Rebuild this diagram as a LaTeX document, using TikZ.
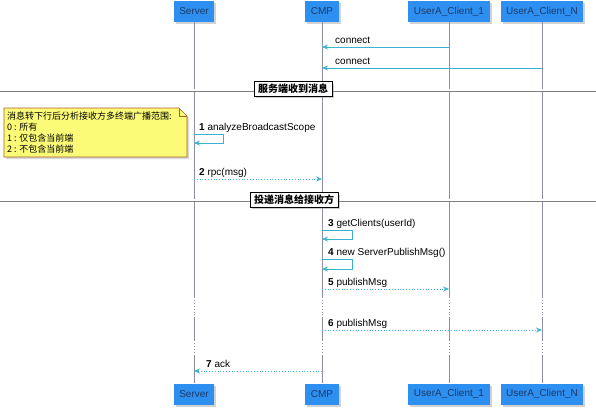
\documentclass[tikz,border=0pt]{standalone}
\usepackage{fontspec}
\setmainfont{Liberation Sans}
\newfontfamily\cjk{Noto Sans CJK SC}
\usetikzlibrary{shadows,arrows.meta}

\definecolor{boxblue}{HTML}{2D8FEF}
\definecolor{boxtext}{HTML}{1B3A6B}
\definecolor{lifegray}{HTML}{8E8EA6}
\definecolor{msgcyan}{HTML}{3AB3CF}
\definecolor{noteyellow}{HTML}{FBFB77}
\definecolor{noteedge}{HTML}{A8602E}

\tikzset{
  actor/.style={fill=boxblue, text=boxtext, minimum height=21pt, inner xsep=5.5pt,
    font=\fontsize{10}{12}\selectfont,
    drop shadow={shadow xshift=2pt, shadow yshift=-2pt, fill=black!35}},
  life/.style={draw=lifegray, line width=0.9pt},
  msg/.style={draw=msgcyan, line width=0.8pt, -{Stealth[length=6pt,width=5pt]}},
  reply/.style={msg, dotted},
  lbl/.style={anchor=base west, inner sep=0pt, font=\fontsize{10}{12}\selectfont},
  sect/.style={draw, fill=white, inner xsep=4pt, inner ysep=2.5pt,
    font=\cjk\bfseries\fontsize{10}{12}\selectfont,
    drop shadow={shadow xshift=2pt, shadow yshift=-2pt, fill=black!40}},
  divider/.style={draw=gray, double=white, double distance=1.6pt, line width=0.7pt}
}

\begin{document}
\begin{tikzpicture}[x=1pt,y=-1pt]
\useasboundingbox (0,0) rectangle (596,410);

% participants
\node[actor] (srv-top) at (194,11.5) {Server};
\node[actor] (cmp-top) at (322,11.5) {CMP};
\node[actor] (ua1-top) at (449,11.5) {UserA\_Client\_1};
\node[actor] (uan-top) at (542,11.5) {UserA\_Client\_N};
\node[actor] (srv-bot) at (194,394) {Server};
\node[actor] (cmp-bot) at (322,394) {CMP};
\node[actor] (ua1-bot) at (449,394) {UserA\_Client\_1};
\node[actor] (uan-bot) at (542,394) {UserA\_Client\_N};

% lifelines
\foreach \p in {srv,cmp,ua1,uan} {
  \draw[life] (\p-top.south) -- (\p-top |- 0,297);
  \draw[life,dotted] (\p-top |- 0,297) -- (\p-top |- 0,318);
  \draw[life] (\p-top |- 0,318) -- (\p-top |- 0,340);
  \draw[life,dotted] (\p-top |- 0,340) -- (\p-top |- 0,356);
  \draw[life] (\p-top |- 0,356) -- (\p-bot.north);
}

% connect
\coordinate (c1a) at (ua1-top |- 0,47);
\coordinate (c1b) at (cmp-top |- 0,47);
\draw[msg] (c1a) -- (c1b);
\node[lbl] (c1l) at ([xshift=13pt,yshift=4pt]c1b) {connect};
\coordinate (c2a) at (uan-top |- 0,68);
\coordinate (c2b) at (cmp-top |- 0,68);
\draw[msg] (c2a) -- (c2b);
\node[lbl] (c2l) at ([xshift=13pt,yshift=4pt]c2b) {connect};

% section 1
\draw[divider] (0,90) -- (596,90);
\node[sect] (sec1) at (293,89) {服务端收到消息};

% note
\draw[noteedge, fill=noteyellow, line width=0.6pt,
  drop shadow={shadow xshift=2pt, shadow yshift=-2pt, fill=black!30}]
  (4,108) -- (179,108) -- (187,116) -- (187,157) -- (4,157) -- cycle;
\draw[noteedge, line width=0.6pt] (179,108) -- (179,116) -- (187,116);
\node[anchor=north west, align=left, inner sep=0pt,
  font=\cjk\fontsize{9}{10.8}\selectfont] (note) at (7,112)
  {消息转下行后分析接收方多终端广播范围:\\0 : 所有\\1 : 仅包含当前端\\2 : 不包含当前端};

% 1 analyzeBroadcastScope
\coordinate (s1a) at (srv-top |- 0,134);
\coordinate (s1b) at (srv-top |- 0,143);
\draw[msg] (s1a) -- ++(29,0) |- (s1b);
\node[lbl] (s1l) at ([xshift=5pt,yshift=4pt]s1a) {\textbf{1} analyzeBroadcastScope};

% 2 rpc(msg)
\coordinate (r2a) at (srv-top |- 0,179);
\coordinate (r2b) at (cmp-top |- 0,179);
\draw[reply] (r2a) -- (r2b);
\node[lbl] (r2l) at ([xshift=5pt,yshift=4pt]r2a) {\textbf{2} rpc(msg)};

% section 2
\draw[divider] (0,200) -- (596,200);
\node[sect] (sec2) at (294,200) {投递消息给接收方};

% 3 getClients
\coordinate (s3a) at (cmp-top |- 0,230);
\coordinate (s3b) at (cmp-top |- 0,239);
\draw[msg] (s3a) -- ++(30,0) |- (s3b);
\node[lbl] (s3l) at ([xshift=6pt,yshift=4pt]s3a) {\textbf{3} getClients(userId)};

% 4 new ServerPublishMsg
\coordinate (s4a) at (cmp-top |- 0,259);
\coordinate (s4b) at (cmp-top |- 0,269);
\draw[msg] (s4a) -- ++(30,0) |- (s4b);
\node[lbl] (s4l) at ([xshift=6pt,yshift=4pt]s4a) {\textbf{4} new ServerPublishMsg()};

% 5 publishMsg
\coordinate (p5a) at (cmp-top |- 0,289);
\coordinate (p5b) at (ua1-top |- 0,289);
\draw[reply] (p5a) -- (p5b);
\node[lbl] (p5l) at ([xshift=6pt,yshift=4pt]p5a) {\textbf{5} publishMsg};

% 6 publishMsg
\coordinate (p6a) at (cmp-top |- 0,330);
\coordinate (p6b) at (uan-top |- 0,330);
\draw[reply] (p6a) -- (p6b);
\node[lbl] (p6l) at ([xshift=6pt,yshift=4pt]p6a) {\textbf{6} publishMsg};

% 7 ack
\coordinate (a7a) at (cmp-top |- 0,371);
\coordinate (a7b) at (srv-top |- 0,371);
\draw[reply] (a7a) -- (a7b);
\node[lbl] (a7l) at ([xshift=12pt,yshift=4pt]a7b) {\textbf{7} ack};
\end{tikzpicture}
\end{document}
